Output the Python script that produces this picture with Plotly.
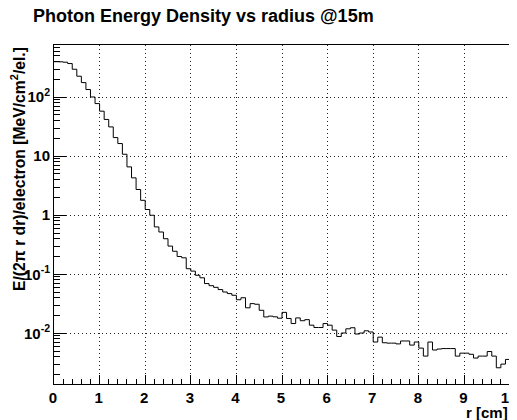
import numpy as np
import plotly.graph_objects as go

# Histogram: 100 bins of 0.1 cm from 0 to 10 cm
bin_edges = np.round(np.linspace(0.0, 10.0, 101), 2)
energy_density = [
    400, 398, 392, 372, 298, 227, 177, 135, 101, 78,
    58, 42, 31.4, 20.7, 16.4, 10.8, 6.6, 4.3, 2.73, 1.79,
    1.25, 1.0, 0.634, 0.52, 0.40, 0.30, 0.245, 0.20, 0.19, 0.124,
    0.113, 0.096, 0.087, 0.0695, 0.064, 0.060, 0.055, 0.050, 0.047, 0.044,
    0.037, 0.040, 0.027, 0.0318, 0.031, 0.0245, 0.0189, 0.0195, 0.019, 0.018,
    0.0226, 0.0178, 0.0146, 0.0182, 0.0163, 0.0170, 0.0137, 0.0125, 0.0125, 0.0146,
    0.0137, 0.0113, 0.0088, 0.0101, 0.0119, 0.0124, 0.0097, 0.0101, 0.011, 0.0105,
    0.0071, 0.0086, 0.0069, 0.0068, 0.0068, 0.0066, 0.0074, 0.0074, 0.0063, 0.0071,
    0.0056, 0.0041, 0.0071, 0.0052, 0.0054, 0.0055, 0.0055, 0.0055, 0.0041, 0.0046,
    0.0046, 0.0044, 0.0038, 0.0041, 0.0041, 0.0049, 0.0041, 0.0026, 0.0030, 0.0036,
]

x_ticks = list(range(0, 11))
y_ticks = [0.01, 0.1, 1, 10, 100]
y_tick_text = ["10<sup>-2</sup>", "10<sup>-1</sup>", "1", "10", "10<sup>2</sup>"]
y_minor = [m * 10.0 ** d for d in range(-3, 3) for m in range(2, 10)]

FONT = "Liberation Sans, Arial, Helvetica, sans-serif"

# the page body has an 8px margin, so the figure is 8px smaller than the window
W, H = 509, 412
OFF = 8

fig = go.Figure()
fig.add_trace(go.Scatter(
    x=bin_edges,
    y=energy_density + [energy_density[-1]],
    mode="lines",
    line={"shape": "hv", "color": "black", "width": 1},
    hoverinfo="skip",
    showlegend=False,
))

axis_common = {
    "ticks": "inside",
    "tickwidth": 1,
    "tickcolor": "black",
    "tickfont": {"size": 15, "weight": "bold"},
    "ticklabeloverflow": "allow",
    "showline": True,
    "linecolor": "black",
    "linewidth": 1,
    "mirror": True,
    "showgrid": True,
    "gridcolor": "#222",
    "griddash": "1px,3px",
    "gridwidth": 1,
    "zeroline": False,
}

fig.update_layout(
    width=W,
    height=H,
    paper_bgcolor="white",
    plot_bgcolor="white",
    margin={"l": 54 - OFF, "r": 7, "t": 45 - OFF, "b": 36, "autoexpand": False},
    font={"family": FONT, "color": "black"},
    title={
        "text": "<b>Photon Energy Density vs radius @15m</b>",
        "x": (33 - OFF) / W,
        "xanchor": "left",
        "y": 1 - (16 - OFF) / H,
        "yanchor": "middle",
        "font": {"size": 18, "family": FONT, "color": "black"},
    },
    xaxis={
        **axis_common,
        "range": [0, 10],
        "tickvals": x_ticks,
        "ticklen": 9,
        "ticklabelshift": -1,
        "minor": {"dtick": 0.2, "ticks": "inside", "ticklen": 5,
                  "tickcolor": "black", "showgrid": False},
    },
    yaxis={
        **axis_common,
        "type": "log",
        "range": [-2.86, 2.885],
        "tickvals": y_ticks,
        "ticktext": y_tick_text,
        "ticklen": 12,
        "minor": {"tickmode": "array", "tickvals": y_minor, "ticks": "inside",
                  "ticklen": 6, "tickcolor": "black", "showgrid": False},
    },
    annotations=[
        {
            "text": "<b>E/(2π r dr)/electron [MeV/cm<sup>2</sup>/el.]</b>",
            "xref": "paper", "yref": "paper",
            "x": (18 - 54) / 456, "y": 1.0,
            "xanchor": "center", "yanchor": "top",
            "textangle": -90,
            "showarrow": False,
            "font": {"size": 15.7, "family": FONT, "color": "black"},
        },
        {
            "text": "<b>r [cm]</b>",
            "xref": "paper", "yref": "paper",
            "x": 1.0, "y": -28 / 339,
            "xanchor": "right", "yanchor": "middle",
            "showarrow": False,
            "font": {"size": 15, "family": FONT, "color": "black"},
        },
    ],
)

fig.write_html("out.html")
